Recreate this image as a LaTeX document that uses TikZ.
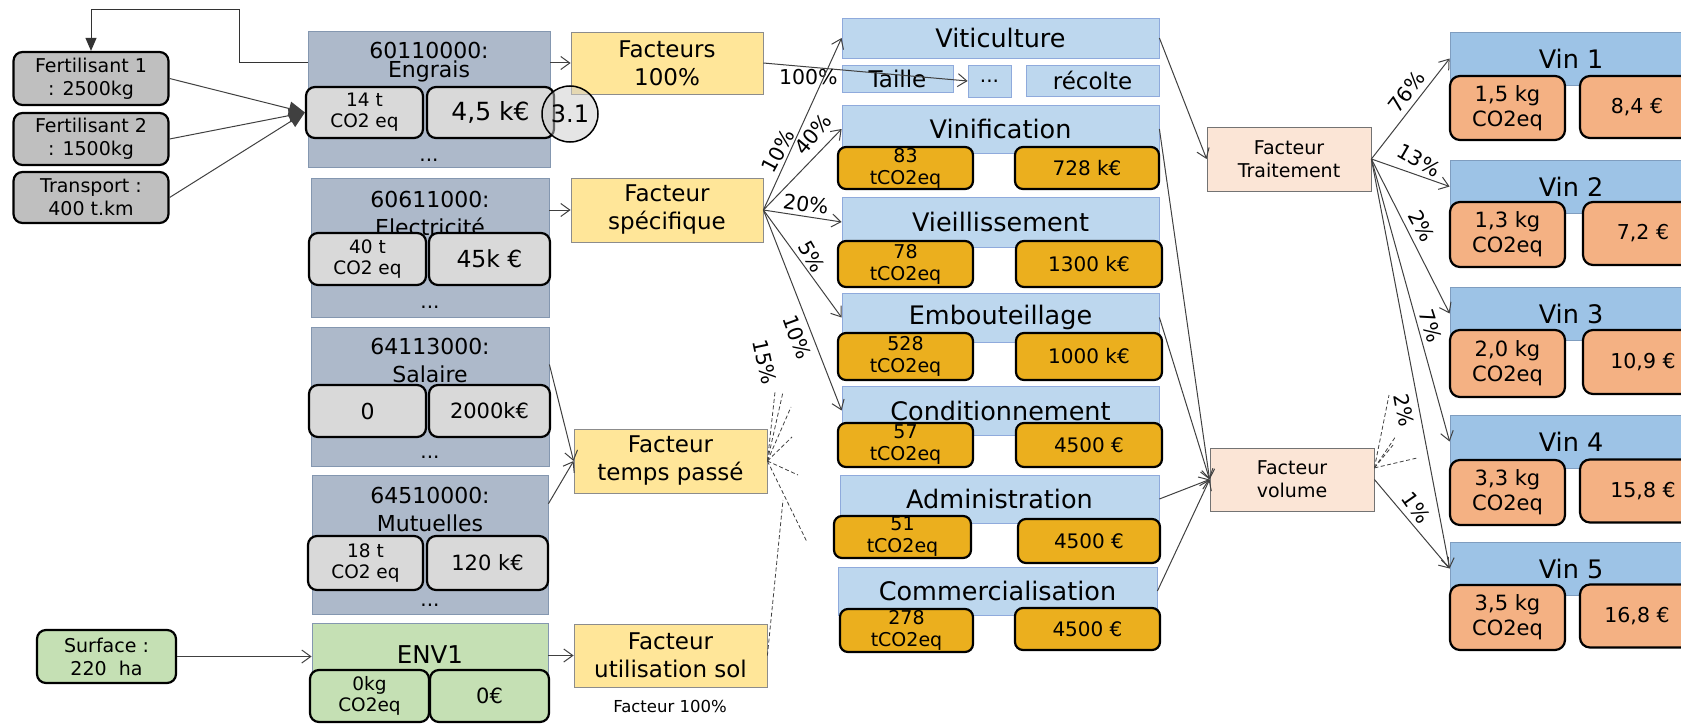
\documentclass[tikz,border=0pt]{standalone}
\usepackage{fontspec}
\setmainfont{DejaVu Sans}
\usetikzlibrary{arrows.meta, positioning}
\newcommand{\fsz}[2]{\fontsize{#1}{#2}\selectfont}
\definecolor{acctfill}{HTML}{ADB9CA}
\definecolor{acctline}{HTML}{8497B0}
\definecolor{valfill}{HTML}{D9D9D9}
\definecolor{infill}{HTML}{BFBFBF}
\definecolor{envfill}{HTML}{C5E0B4}
\definecolor{factfill}{HTML}{FFE699}
\definecolor{procfill}{HTML}{BDD7EE}
\definecolor{procline}{HTML}{8FAADC}
\definecolor{costfill}{HTML}{EBAF1E}
\definecolor{keyfill}{HTML}{FBE5D6}
\definecolor{vinfill}{HTML}{9DC3E6}
\definecolor{vinline}{HTML}{7F9DBF}
\definecolor{vinvalfill}{HTML}{F4B183}
\definecolor{linkgray}{HTML}{404040}
\tikzset{
  acct/.style     = {rectangle, draw=acctline, fill=acctfill, line width=0.8pt, inner sep=0pt},
  accttxt/.style  = {align=center, inner sep=0pt, font=\fsz{22}{28}},
  valbox/.style   = {rectangle, rounded corners=9pt, draw=black, line width=2.2pt,
                     fill=valfill, inner sep=0pt, align=center, font=\fsz{18.5}{21}},
  inbox/.style    = {valbox, fill=infill, font=\fsz{19}{23}},
  dotstxt/.style  = {inner sep=0pt, font=\fsz{20}{22}},
  badge/.style    = {circle, draw=black, line width=1.5pt, fill=gray!40, fill opacity=0.5,
                     text opacity=1, minimum size=56pt, inner sep=0pt, font=\fsz{24}{26}},
  facbox/.style   = {rectangle, draw=black!45, line width=0.8pt, fill=factfill,
                     inner sep=0pt, align=center, font=\fsz{23}{28}},
  proc/.style     = {rectangle, draw=procline, line width=0.8pt, fill=procfill,
                     inner sep=0pt, font=\fsz{25.5}{28}},
  cost/.style     = {rectangle, rounded corners=8pt, draw=black, line width=2.2pt,
                     fill=costfill, inner sep=0pt, align=center, font=\fsz{19}{22}},
  keybox/.style   = {rectangle, draw=black!55, line width=0.8pt, fill=keyfill,
                     inner sep=0pt, align=center, font=\fsz{19}{23}},
  vinblk/.style   = {rectangle, draw=vinline, line width=0.8pt, fill=vinfill,
                     inner sep=0pt, font=\fsz{25.5}{28}},
  vinval/.style   = {rectangle, rounded corners=10pt, draw=black, line width=2.2pt,
                     fill=vinvalfill, inner sep=0pt, align=center, font=\fsz{21}{25}},
  pct/.style      = {inner sep=1pt, font=\fsz{20.5}{22}},
  flow/.style     = {draw=linkgray, line width=1pt, -{Straight Barb[length=9pt,width=13pt]}},
  dflow/.style    = {draw=linkgray, line width=0.8pt, dash pattern=on 4pt off 2.5pt},
  fbflow/.style   = {draw=black!80, line width=1pt, -{Triangle[length=13pt,width=11pt]}},
  inflow/.style   = {draw=linkgray, line width=1pt, -{Triangle[length=16pt,width=14pt]}}
}
\begin{document}
\begin{tikzpicture}[x=1pt, y=-1pt]
  \useasboundingbox (0,0) rectangle (1681,725);
  % inputs
  \node[inbox, minimum width=155pt, minimum height=53pt] (fert1) at (91,78.5) {Fertilisant 1\\: 2500kg};
  \node[inbox, minimum width=155pt, minimum height=52pt] (fert2) at (91,139) {Fertilisant 2\\: 1500kg};
  \node[inbox, minimum width=155pt, minimum height=51pt] (transp) at (91,197.5) {Transport :\\400 t.km};
  \node[inbox, fill=envfill, minimum width=139pt, minimum height=53pt] (surf) at (106.5,656.5) {Surface :\\220\ \ ha};
  % accounts
  \node[acct, minimum width=242pt, minimum height=136pt] (engrais) at (429,99) {};
  \node[accttxt, font=\fsz{22}{19}] (engraist) at (429,62) {60110000:\\Engrais};
  \node[valbox, minimum width=117pt, minimum height=51pt] (engraisco) at (364.5,112.5) {14 t\\CO2 eq};
  \node[valbox, minimum width=127pt, minimum height=51pt, font=\fsz{25}{28}] (engraiseur) at (490.5,112.5) {4,5 k€};
  \node[dotstxt] (engraisd) at (429,160) {...};
  \node[acct, minimum width=238pt, minimum height=139pt] (elec) at (430,247.5) {};
  \node[accttxt] (elect) at (430,213) {60611000:\\Electricité};
  \node[valbox, minimum width=117pt, minimum height=52pt] (elecco) at (367.5,259) {40 t\\CO2 eq};
  \node[valbox, minimum width=121pt, minimum height=52pt, font=\fsz{23.5}{26}] (eleceur) at (489.5,259) {45k €};
  \node[dotstxt] (elecd) at (430,307) {...};
  \node[acct, minimum width=238pt, minimum height=139pt] (salaire) at (430,396.5) {};
  \node[accttxt] (salairet) at (430,360) {64113000:\\Salaire};
  \node[valbox, minimum width=117pt, minimum height=52pt, font=\fsz{22}{24}] (salaireco) at (367.5,411) {0};
  \node[valbox, minimum width=121pt, minimum height=52pt, font=\fsz{21}{24}] (salaireeur) at (489.5,411) {2000k€};
  \node[dotstxt] (salaired) at (430,457) {...};
  \node[acct, minimum width=236pt, minimum height=139pt] (mutu) at (430,544.5) {};
  \node[accttxt] (mutut) at (430,509) {64510000:\\Mutuelles};
  \node[valbox, minimum width=115pt, minimum height=54pt] (mutuco) at (365.5,563) {18 t\\CO2 eq};
  \node[valbox, minimum width=121pt, minimum height=54pt, font=\fsz{21}{24}] (mutueur) at (487.5,563) {120 k€};
  \node[dotstxt] (mutud) at (430,605) {...};
  \node[acct, fill=envfill, minimum width=236pt, minimum height=78pt] (env1) at (430,662) {};
  \node[accttxt, font=\fsz{24.5}{28}] (env1t) at (430,655) {ENV1};
  \node[valbox, fill=envfill, minimum width=119pt, minimum height=52pt] (env1co) at (369.5,696) {0kg\\CO2eq};
  \node[valbox, fill=envfill, minimum width=119pt, minimum height=52pt, font=\fsz{21}{24}] (env1eur) at (489.5,696) {0€};
  % factors
  \node[facbox, minimum width=192pt, minimum height=62pt] (fcent) at (667,63) {Facteurs\\100\%};
  \node[facbox, minimum width=192pt, minimum height=64pt] (fspec) at (667,210) {Facteur\\spécifique};
  \node[facbox, minimum width=193pt, minimum height=64pt] (ftemps) at (670.5,461) {Facteur\\temps passé};
  \node[facbox, minimum width=193pt, minimum height=63pt] (fsol) at (670.5,655.5) {Facteur\\utilisation sol};
  \node[font=\fsz{16.5}{18}] (fsolnote) at (670,706) {Facteur 100\%};
  \node[badge] (c31) at (570,114) {3.1};
  % processes
  \node[proc, minimum width=317pt, minimum height=40pt] (viti) at (1000.5,38) {Viticulture};
  \node[proc, minimum width=111pt, minimum height=27pt, font=\fsz{23}{25}] (taille) at (897.5,78.5) {Taille};
  \node[proc, minimum width=43pt, minimum height=32pt, font=\fsz{20}{22}] (dotsb) at (989.5,81) {...};
  \node[proc, minimum width=133pt, minimum height=31pt, font=\fsz{23}{25}] (recolte) at (1092.5,80.5) {récolte};
  \node[proc, minimum width=317pt, minimum height=48pt] (vinif) at (1000.5,129) {Vinification};
  \node[cost, minimum width=135pt, minimum height=42pt] (vinifco) at (905.5,168) {83\\tCO2eq};
  \node[cost, minimum width=144pt, minimum height=42pt, font=\fsz{20}{22}] (vinifeur) at (1087,168) {728 k€};
  \node[proc, minimum width=317pt, minimum height=50pt] (vieil) at (1000.5,222) {Vieillissement};
  \node[cost, minimum width=135pt, minimum height=46pt] (vieilco) at (905.5,264) {78\\tCO2eq};
  \node[cost, minimum width=146pt, minimum height=46pt, font=\fsz{20}{22}] (vieileur) at (1089,264) {1300 k€};
  \node[proc, minimum width=317pt, minimum height=49pt] (embout) at (1000.5,317.5) {Embouteillage};
  \node[cost, minimum width=135pt, minimum height=47pt] (emboutco) at (905.5,356.5) {528\\tCO2eq};
  \node[cost, minimum width=146pt, minimum height=47pt, font=\fsz{20}{22}] (embouteur) at (1089,356.5) {1000 k€};
  \node[proc, minimum width=317pt, minimum height=49pt] (condi) at (1000.5,410.5) {Conditionnement};
  \node[cost, minimum width=135pt, minimum height=44pt] (condico) at (905.5,445) {57\\tCO2eq};
  \node[cost, minimum width=146pt, minimum height=44pt, font=\fsz{20}{22}] (condieur) at (1089,445) {4500 €};
  \node[proc, minimum width=319pt, minimum height=48pt] (admin) at (999.5,499) {Administration};
  \node[cost, minimum width=137pt, minimum height=42pt] (adminco) at (902.5,537) {51\\tCO2eq};
  \node[cost, minimum width=142pt, minimum height=44pt, font=\fsz{20}{22}] (admineur) at (1089,541) {4500 €};
  \node[proc, minimum width=319pt, minimum height=48pt] (comm) at (997.5,591) {Commercialisation};
  \node[cost, minimum width=133pt, minimum height=43pt] (commco) at (906.5,630.5) {278\\tCO2eq};
  \node[cost, minimum width=145pt, minimum height=42pt, font=\fsz{20}{22}] (commeur) at (1087.5,629) {4500 €};
  % keys
  \node[keybox, minimum width=164pt, minimum height=64pt] (traite) at (1289,159) {Facteur\\Traitement};
  \node[keybox, minimum width=164pt, minimum height=63pt] (volume) at (1292,479.5) {Facteur\\volume};
  % wines
  \node[vinblk, minimum width=242pt, minimum height=53pt] (vin1) at (1571,58.5) {Vin 1};
  \node[vinval, minimum width=115pt, minimum height=64pt] (vin1co) at (1507.5,108) {1,5 kg\\CO2eq};
  \node[vinval, minimum width=114pt, minimum height=62pt, font=\fsz{20.5}{24}] (vin1eur) at (1637,107) {8,4 €};
  \node[vinblk, minimum width=242pt, minimum height=53pt] (vin2) at (1571,186.5) {Vin 2};
  \node[vinval, minimum width=115pt, minimum height=65pt] (vin2co) at (1507.5,234.5) {1,3 kg\\CO2eq};
  \node[vinval, minimum width=120pt, minimum height=63pt, font=\fsz{20.5}{24}] (vin2eur) at (1643,233.5) {7,2 €};
  \node[vinblk, minimum width=242pt, minimum height=53pt] (vin3) at (1571,313.5) {Vin 3};
  \node[vinval, minimum width=115pt, minimum height=67pt] (vin3co) at (1507.5,363.5) {2,0 kg\\CO2eq};
  \node[vinval, minimum width=120pt, minimum height=64pt, font=\fsz{20.5}{24}] (vin3eur) at (1643,362) {10,9 €};
  \node[vinblk, minimum width=242pt, minimum height=53pt] (vin4) at (1571,441.5) {Vin 4};
  \node[vinval, minimum width=115pt, minimum height=65pt] (vin4co) at (1507.5,492.5) {3,3 kg\\CO2eq};
  \node[vinval, minimum width=126pt, minimum height=63pt, font=\fsz{20.5}{24}] (vin4eur) at (1643,491) {15,8 €};
  \node[vinblk, minimum width=242pt, minimum height=53pt] (vin5) at (1571,568.5) {Vin 5};
  \node[vinval, minimum width=115pt, minimum height=65pt] (vin5co) at (1507.5,617.5) {3,5 kg\\CO2eq};
  \node[vinval, minimum width=114pt, minimum height=63pt, font=\fsz{20.5}{24}] (vin5eur) at (1637,616) {16,8 €};
  % links, left part
  \draw[fbflow] (engrais.west |- fcent.west) -| (239,10) -| (fert1.north);
  \foreach \src in {fert1, fert2, transp}
    \draw[inflow] (\src.east) -- (engraisco.west);
  \draw[flow] (surf.east) -- (surf.east -| env1.west);
  \draw[flow] (engrais.east |- fcent.west) -- (fcent.west);
  \draw[flow] (elec.east |- fspec.west) -- (fspec.west);
  \draw[flow] (salaire.15) -- (ftemps.west);
  \draw[flow] (mutu.19) -- (ftemps.west);
  \draw[flow] (env1.east |- fsol.west) -- (fsol.west);
  % links, factors to processes
  \draw[flow] (fcent.east) -- node[pct, pos=0.22, below=1pt] (p100) {100\%} (dotsb.west);
  \foreach \dst in {viti, vinif, vieil, embout, condi}
    \draw[flow] (fspec.east) -- (\dst.west);
  \node[pct, rotate=62] (p10a) at (778,151) {10\%};
  \node[pct, rotate=50] (p40) at (813,134) {40\%};
  \node[pct, rotate=-8] (p20) at (806,204) {20\%};
  \node[pct, rotate=-60] (p5) at (812,257) {5\%};
  \node[pct, rotate=-70] (p10b) at (797,337) {10\%};
  \node[pct, rotate=-78] (p15) at (765,362) {15\%};
  \foreach \i/\x/\y in {1/775/392, 2/783/392, 3/791/407, 4/792/437, 5/798/475, 6/807/542}{
    \coordinate (tp\i) at (\x,\y);
    \draw[dflow] (ftemps.east) -- (tp\i);
  }
  \coordinate (solend) at (783,500);
  \draw[dflow] (fsol.east) -- (solend);
  % links, processes to keys
  \draw[flow] (viti.east) -- (traite.west);
  \foreach \src in {vinif, embout, admin, comm}
    \draw[flow] (\src.east) -- (volume.west);
  % links, keys to wines
  \foreach \dst in {vin1, vin2, vin3, vin4, vin5}
    \draw[flow] (traite.east) -- (\dst.west);
  \draw[flow] (volume.east) -- (vin5.west);
  \foreach \i/\x/\y in {1/1389/395, 2/1396/436, 3/1393/445, 4/1417/458}{
    \coordinate (vd\i) at (\x,\y);
    \draw[dflow] (volume.8) -- (vd\i);
  }
  \node[pct, rotate=52] (p76) at (1407,92) {76\%};
  \node[pct, rotate=-30] (p13) at (1419,160) {13\%};
  \node[pct, rotate=-62] (p2a) at (1422,226) {2\%};
  \node[pct, rotate=-72] (p7) at (1431,326) {7\%};
  \node[pct, rotate=-80] (p2b) at (1404,410) {2\%};
  \node[pct, rotate=-55] (p1) at (1416,508) {1\%};
\end{tikzpicture}
\end{document}
